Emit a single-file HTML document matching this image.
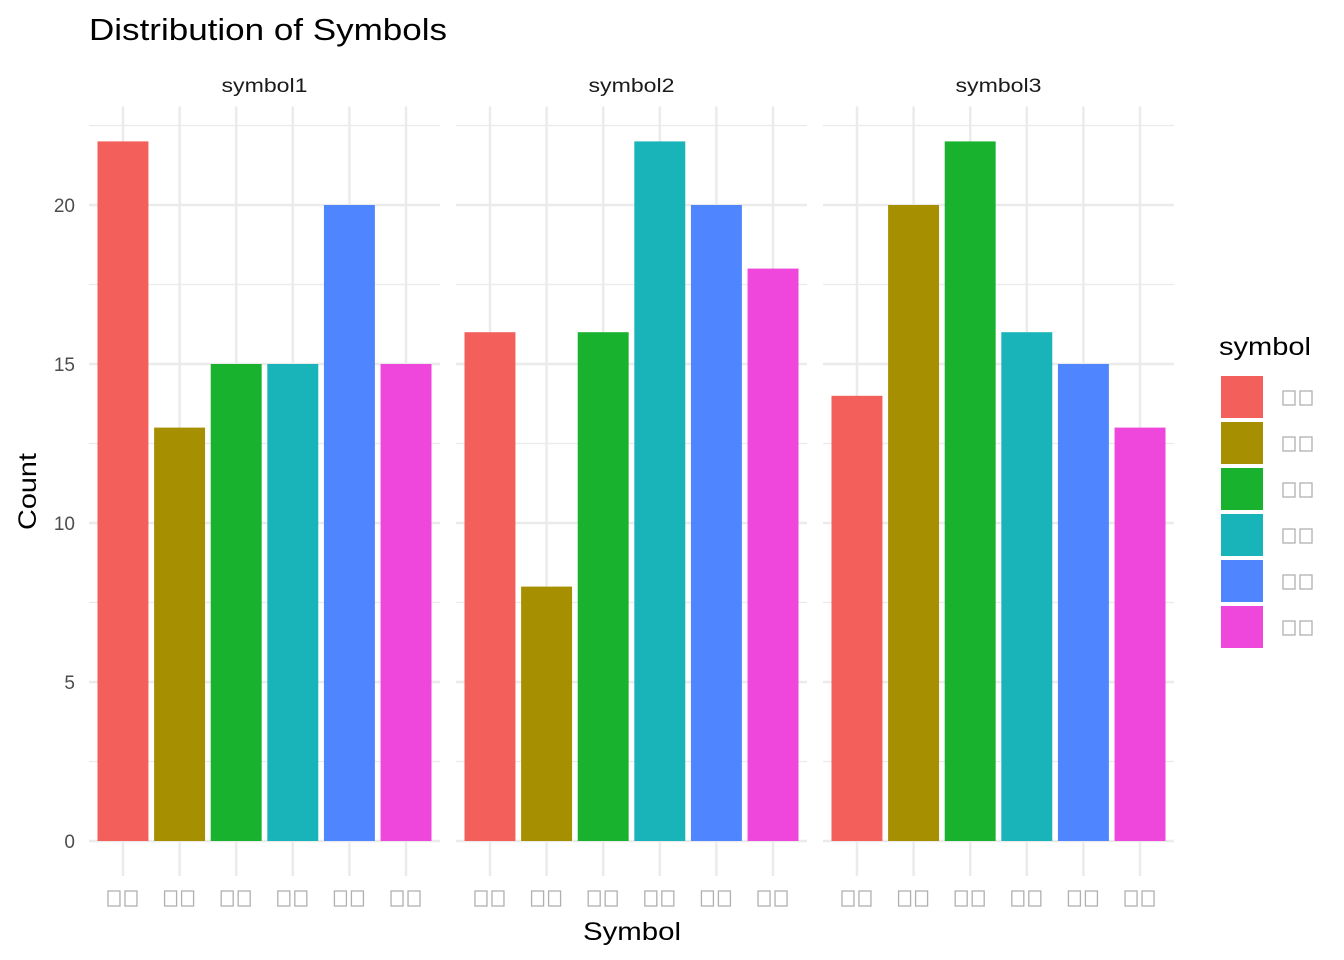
<!DOCTYPE html>
<html><head><meta charset="utf-8"><style>
body{margin:0;background:#fff}
svg{display:block;font-family:"Liberation Sans",Arial,sans-serif}
</style></head><body>
<svg id="c" width="1344" height="960">
<text x="89" y="40" font-size="31" textLength="358" lengthAdjust="spacingAndGlyphs" fill="#000">Distribution of Symbols</text>
<text x="583" y="940" font-size="25" textLength="98" lengthAdjust="spacingAndGlyphs" fill="#000">Symbol</text>
<text transform="translate(36,530) rotate(-90)" font-size="25" textLength="77" lengthAdjust="spacingAndGlyphs" fill="#000">Count</text>
<text x="1219" y="355" font-size="25" textLength="92" lengthAdjust="spacingAndGlyphs" fill="#000">symbol</text>
<g id="g"></g>
</svg>
<script>
const panels = ["symbol1","symbol2","symbol3"];
const categories = ["c1","c2","c3","c4","c5","c6"];
const colors = ["#F35F5B","#A68F00","#18B22F","#19B4BA","#4F85FE","#EF46DC"];
const values1 = [22,13,15,15,20,15];
const values2 = [16,8,16,22,20,18];
const values3 = [14,20,22,16,15,13];
const yTicks = [0,5,10,15,20];
const series=[values1,values2,values3];
const NS="http://www.w3.org/2000/svg";
const g=document.getElementById('g');
function mk(t,a){const e=document.createElementNS(NS,t);for(const k in a)e.setAttribute(k,a[k]);g.appendChild(e);return e;}
const panelX0=[89,456,823], panelW=351;
const y=v=>841-v*31.8;
const ymax=23.1, ymin=-1.1;
const step=panelW/(categories.length-1+1.2);
const x=(p,i)=>panelX0[p]+step*(0.6+i);
panels.forEach((name,p)=>{
  const x0=panelX0[p];
  for(let v=2.5;v<ymax;v+=5){const l=mk('line',{x1:x0,x2:x0+panelW,y1:y(v),y2:y(v),stroke:'#EBEBEB','stroke-width':1.2});
    }
  yTicks.forEach(v=>{const l=mk('line',{x1:x0,x2:x0+panelW,y1:y(v),y2:y(v),stroke:'#EBEBEB','stroke-width':2.5});
    });
  categories.forEach((c,i)=>{const l=mk('line',{x1:x(p,i),x2:x(p,i),y1:y(ymax),y2:y(ymin),stroke:'#EBEBEB','stroke-width':2.5});
    });
  const t=mk('text',{x:x0+panelW/2-43,y:92,'font-size':19,textLength:86,lengthAdjust:'spacingAndGlyphs',fill:'#1a1a1a'});t.textContent=name;
  
  series[p].forEach((v,i)=>{const bw=step*0.9;
    const r=mk('rect',{x:x(p,i)-bw/2,y:y(v),width:bw,height:y(0)-y(v),fill:colors[i]});
    
    [-9,8].forEach(dx=>{const b=mk('rect',{x:x(p,i)+dx-6,y:891,width:12,height:15,fill:'none',stroke:'#b0b0b0','stroke-width':1.3});
      });
  });
});
yTicks.forEach(v=>{const t=mk('text',{x:75,y:y(v)+7,'font-size':19,'text-anchor':'end',fill:'#4d4d4d'});t.textContent=v;
  });
colors.forEach((c,i)=>{const yy=376+i*46;
  const r=mk('rect',{x:1221,y:yy,width:42,height:42,fill:c});
  
  [1283,1300].forEach(bx=>{const b=mk('rect',{x:bx,y:yy+15,width:12,height:14,fill:'none',stroke:'#b0b0b0','stroke-width':1.3});
    });
});
</script>
</body></html>
